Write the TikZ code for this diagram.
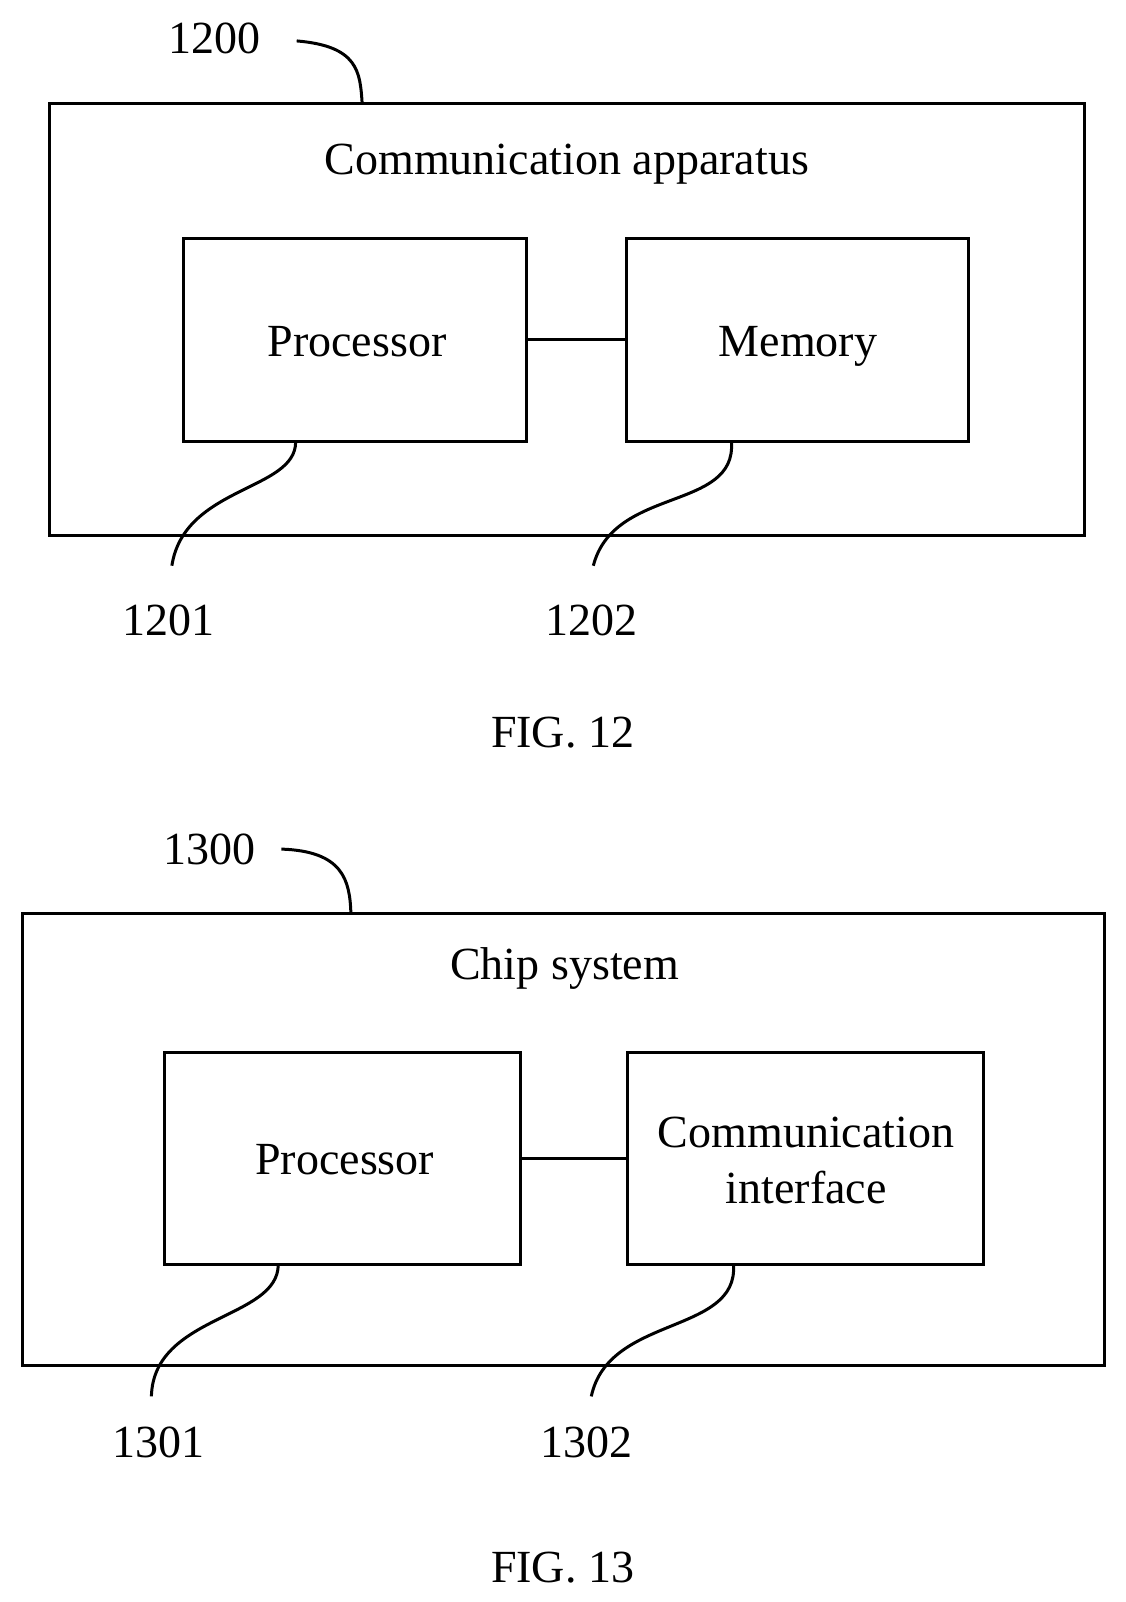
\documentclass[tikz,border=0pt]{standalone}
\usepackage{fontspec}
\setmainfont{Liberation Serif}
\begin{document}
\begin{tikzpicture}[x=1.0227pt,y=-1.0227pt,
  box/.style={draw,line width=3pt,inner sep=0pt},
  lbl/.style={font=\fontsize{46}{52}\selectfont},
  txt/.style={lbl,anchor=base,inner sep=0pt},
  lead/.style={line width=3pt}]
\useasboundingbox (0,0) rectangle (1100,1566);
% FIG 12
\node[box,minimum width=1035,minimum height=432] (outer1) at (554,312) {};
\node[lbl] (t1) at (554,160) {Communication apparatus};
\node[box,minimum width=342,minimum height=203] (p1) at (347,332) {};
\node[txt] (p1t) at (349,348) {Processor};
\node[box,minimum width=342,minimum height=203] (m1) at (780,332) {};
\node[txt] (m1t) at (780,348) {Memory};
\draw[line width=3pt] (p1.east) -- (m1.west);
\node[lbl] (n1200) at (210,38) {1200};
\coordinate (c1200) at (290,40);
\draw[lead] (c1200) .. controls (350,45) and (352,70) .. (354,101);
\node[lbl] (n1201) at (165,606) {1201};
\coordinate (c1201) at (168,553);
\draw[lead] (289,432) .. controls (289,480) and (180,475) .. (c1201);
\node[lbl] (n1202) at (578,606) {1202};
\coordinate (c1202) at (580,553);
\draw[lead] (715,432) .. controls (720,500) and (600,475) .. (c1202);
\node[lbl] (f12) at (550,716) {FIG. 12};
% FIG 13
\node[box,minimum width=1082,minimum height=452] (outer2) at (551,1114) {};
\node[lbl] (t2) at (552,947) {Chip system};
\node[box,minimum width=356,minimum height=212] (p2) at (335,1132) {};
\node[txt] (p2t) at (337,1148) {Processor};
\node[box,minimum width=356,minimum height=212] (c2) at (787,1132) {};
\node[txt] (c2a) at (788,1122) {Communication};
\node[txt] (c2b) at (788,1176) {interface};
\draw[line width=3pt] (p2.east) -- (c2.west);
\node[lbl] (n1300) at (205,830) {1300};
\coordinate (c1300) at (275,830);
\draw[lead] (c1300) .. controls (335,832) and (342,860) .. (343,893);
\node[lbl] (n1301) at (155,1410) {1301};
\coordinate (c1301) at (148,1365);
\draw[lead] (272,1236) .. controls (272,1290) and (150,1285) .. (c1301);
\node[lbl] (n1302) at (573,1410) {1302};
\coordinate (c1302) at (578,1365);
\draw[lead] (717,1236) .. controls (722,1305) and (595,1285) .. (c1302);
\node[lbl] (f13) at (550,1532) {FIG. 13};
\end{tikzpicture}
\end{document}
